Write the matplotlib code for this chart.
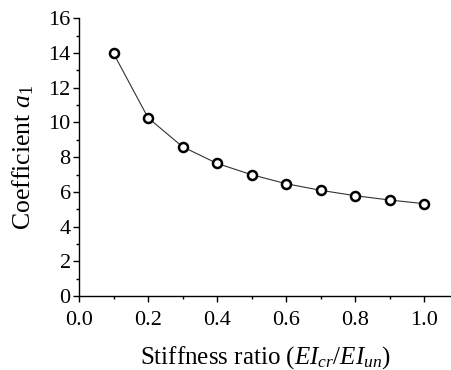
import matplotlib
matplotlib.use("Agg")
import matplotlib.pyplot as plt
from matplotlib.ticker import MultipleLocator

ratio = [0.1, 0.2, 0.3, 0.4, 0.5, 0.6, 0.7, 0.8, 0.9, 1.0]
coef = [13.98, 10.27, 8.6, 7.64, 6.99, 6.47, 6.09, 5.78, 5.53, 5.32]

plt.rcParams['font.family'] = ['Liberation Serif', 'DejaVu Serif']
plt.rcParams['mathtext.fontset'] = 'custom'
plt.rcParams['mathtext.rm'] = 'Liberation Serif'
plt.rcParams['mathtext.it'] = 'Liberation Serif:italic'

fig = plt.figure(figsize=(4.51, 3.70), dpi=100)
ax = fig.add_axes([79/451, 74/370, 1 - 79/451, (296-18.3)/370])
ax.plot(ratio, coef, color='#333333', lw=0.8, marker='o', ms=6.5,
        mfc='white', mec='black', mew=1.8, zorder=3, clip_on=False)
ax.set_xlim(0, 1.078)
ax.set_ylim(0, 16)
ax.xaxis.set_major_locator(MultipleLocator(0.2))
ax.xaxis.set_minor_locator(MultipleLocator(0.1))
ax.yaxis.set_major_locator(MultipleLocator(2))
ax.yaxis.set_minor_locator(MultipleLocator(1))
ax.xaxis.set_major_formatter(matplotlib.ticker.FormatStrFormatter('%.1f'))
for s in ['top', 'right']:
    ax.spines[s].set_visible(False)
for s in ['left', 'bottom']:
    ax.spines[s].set_linewidth(1.0)
ax.tick_params(which='major', direction='out', length=4, width=1, labelsize=16)
ax.tick_params(axis='y', which='major', pad=2)
ax.tick_params(axis='x', which='major', pad=7)
ax.tick_params(which='minor', direction='out', length=2.5, width=1)
ax.set_xlabel(r'Stiffness ratio ($EI_{cr}/EI_{un}$)', fontsize=18, labelpad=10)
ax.set_ylabel(r'Coefficient $a_1$', fontsize=18.5, labelpad=9)
fig.savefig('out.png', dpi=100)
